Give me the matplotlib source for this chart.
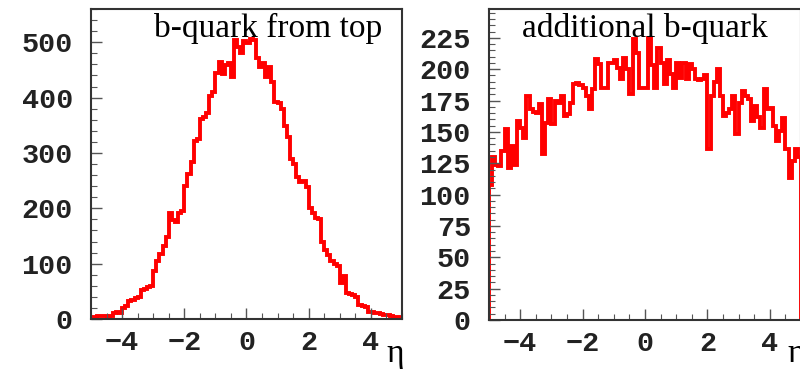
import numpy as np
import matplotlib
matplotlib.use("Agg")
import matplotlib.pyplot as plt
from matplotlib.ticker import MultipleLocator

# eta binning: 100 bins from -5 to 5
edges = np.linspace(-5, 5, 101)

# b-quark from top
top_counts = [
    3, 4, 6, 6, 5, 4, 5, 10, 12, 11,
    20, 24, 33, 35, 38, 40, 52, 54, 58, 60,
    86, 105, 118, 132, 148, 192, 178, 176, 192, 195,
    240, 262, 283, 322, 325, 362, 365, 372, 402, 410,
    444, 465, 442, 458, 463, 438, 504, 492, 480, 503,
    498, 505, 504, 471, 456, 462, 438, 455, 429, 392,
    390, 380, 349, 329, 289, 280, 256, 248, 249, 238,
    200, 192, 183, 181, 140, 125, 116, 104, 100, 95,
    65, 77, 47, 46, 44, 40, 25, 23, 22, 13,
    12, 10, 10, 9, 7, 7, 5, 4, 4, 2,
]

# additional b-quark
add_counts = [
    108, 130, 124, 123, 135, 152, 121, 139, 124, 159,
    153, 145, 179, 168, 166, 165, 172, 132, 157, 176,
    156, 175, 173, 179, 163, 164, 173, 188, 189, 187,
    185, 179, 168, 184, 208, 204, 185, 185, 205, 205,
    207, 201, 192, 209, 200, 180, 224, 213, 185, 185,
    185, 225, 203, 185, 217, 205, 188, 207, 196, 185,
    205, 193, 205, 192, 204, 200, 192, 191, 192, 195,
    136, 179, 190, 200, 179, 163, 165, 168, 179, 148,
    173, 183, 179, 176, 159, 171, 162, 153, 184, 168,
    169, 155, 143, 151, 161, 136, 113, 127, 136, 130,
]

panels = [
    (top_counts, "b-quark from top", 560, 100, 20),
    (add_counts, "additional b-quark", 248, 25, 5),
]

fig = plt.figure(figsize=(8, 3.75), dpi=100)
rects = [[91 / 800, 56 / 375, 311 / 800, 310 / 375],
         [489 / 800, 55 / 375, 312 / 800, 311 / 375]]
title_x = [0.203, 0.106]
eta_x = [395 / 800, 796 / 800]

for k, (counts, title, ymax, major, minor) in enumerate(panels):
    ax = fig.add_axes(rects[k])
    ax.stairs(counts, edges, color="#ff0000", lw=2.8, baseline=0)
    ax.set_xlim(-5, 5)
    ax.set_ylim(0, ymax)
    ax.xaxis.set_major_locator(MultipleLocator(2))
    ax.xaxis.set_minor_locator(MultipleLocator(0.5))
    ax.yaxis.set_major_locator(MultipleLocator(major))
    ax.yaxis.set_minor_locator(MultipleLocator(minor))
    ax.tick_params(which="both", direction="in", color="#555555",
                   top=False, right=False)
    ax.tick_params(which="major", length=8, width=1)
    ax.tick_params(which="minor", length=4, width=0.8)
    ax.tick_params(axis="x", pad=8)
    ax.tick_params(axis="y", pad=13)
    for lab in ax.get_xticklabels() + ax.get_yticklabels():
        lab.set_family(["Liberation Mono", "DejaVu Sans Mono"])
        lab.set_fontweight("bold")
        lab.set_fontsize(20.5)
        lab.set_color("#222222")
    for sp in ax.spines.values():
        sp.set_linewidth(1.5)
        sp.set_color("#333333")
    ax.text(title_x[k], 0.91, title, transform=ax.transAxes,
            family="Liberation Serif", fontsize=24, va="baseline", ha="left")
    fig.text(eta_x[k], 13 / 375, "\u03b7", family="Liberation Serif",
             fontsize=24, ha="center", va="baseline")

fig.savefig("out.png", dpi=100)
